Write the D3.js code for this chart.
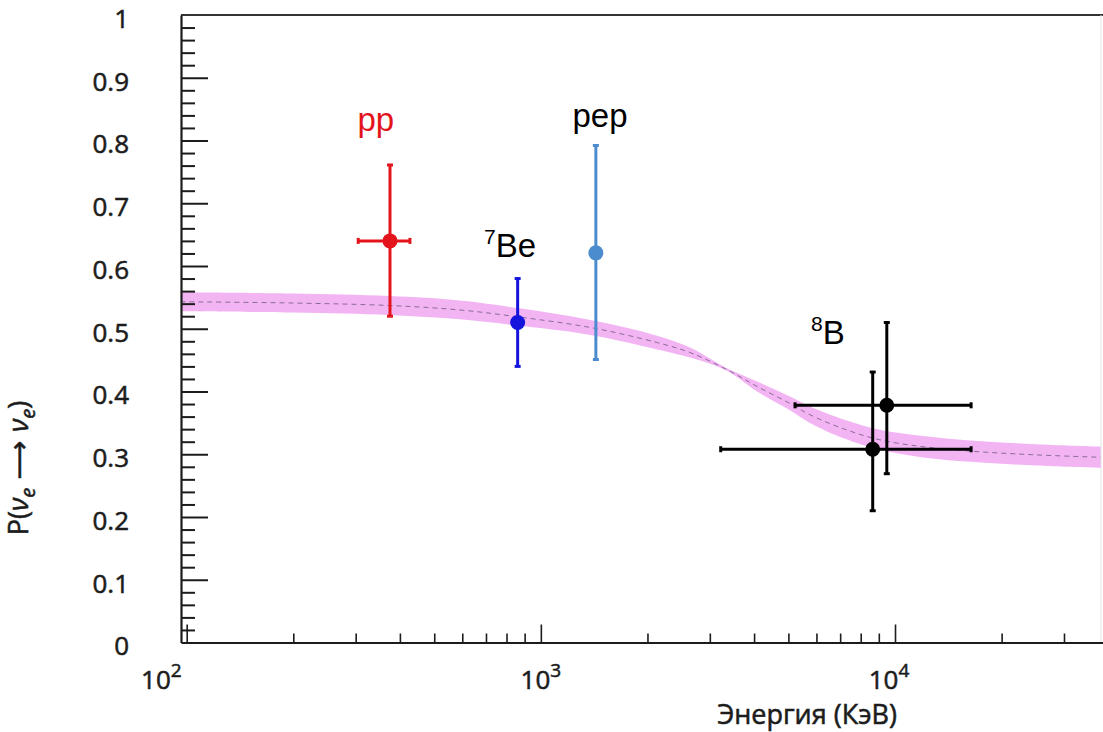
<!DOCTYPE html>
<html><head><meta charset="utf-8">
<script src="https://cdn.jsdelivr.net/npm/d3@7"></script>
<style>body{margin:0;background:#fff}</style>
</head><body><svg id="c" width="1103" height="732"></svg>
<script>
// ---------- data ----------
const yTickValues = [0, 0.1, 0.2, 0.3, 0.4, 0.5, 0.6, 0.7, 0.8, 0.9, 1];
const yTickLabels = ["0", "0.1", "0.2", "0.3", "0.4", "0.5", "0.6", "0.7", "0.8", "0.9", "1"];
const xDecades = [100, 1000, 10000];
const xTickBase = ["10", "10", "10"];
const xTickExp = ["2", "3", "4"];

// MSW-LMA band (energy keV, centre, half-width)
const bandEnergy = [96, 200, 375, 590, 860, 1380, 2130, 2640, 3350, 4080, 5050, 5750, 7200, 9060, 12000, 16300, 25000, 39000];
const bandMid    = [0.543, 0.541, 0.537, 0.530, 0.519, 0.502, 0.478, 0.462, 0.435, 0.408, 0.381, 0.363, 0.340, 0.323, 0.312, 0.305, 0.299, 0.295];
const bandHalf   = [0.015, 0.015, 0.015, 0.015, 0.014, 0.012, 0.011, 0.008, 0.002, 0.008, 0.011, 0.013, 0.015, 0.016, 0.017, 0.017, 0.017, 0.017];

// measurements
const sourceNames = ["pp", "7Be", "pep", "8B", "8B"];
const energy   = [375, 860, 1430, 8650, 9480];
const prob     = [0.640, 0.510, 0.621, 0.308, 0.378];
const probLo   = [0.520, 0.440, 0.451, 0.210, 0.269];
const probHi   = [0.761, 0.580, 0.792, 0.431, 0.510];
const energyLo = [305, null, null, 3220, 5220];
const energyHi = [427, null, null, 16400, 16400];
const pointColors = ["#e4141c", "#1414dc", "#4a8cce", "#000000", "#000000"];

// labels (in data coordinates)
const labelMain = ["pp", "Be", "pep", "B"];
const labelSup  = ["", "7", "", "8"];
const labelE    = [342, 819, 1469, 6460];
const labelP    = [0.815, 0.614, 0.821, 0.475];
const labelColors = ["#e4141c", "#000000", "#000000", "#000000"];

// ---------- chart ----------
const svg = d3.select("#c");
const mLeft = 181, mRight = 1103, mTop = 15, mBottom = 642.5;
const x = d3.scaleLog().domain([96.37, 38660]).range([mLeft, mRight]);
const y = d3.scaleLinear().domain([0, 1]).range([mBottom, mTop]);
const FONT = "'Open Sans', 'Noto Sans', sans-serif";
const ink = "#1c1c1c";

svg.append("defs").append("clipPath").attr("id", "plot")
  .append("rect").attr("x", mLeft).attr("y", mTop).attr("width", mRight - 2 - mLeft).attr("height", mBottom - mTop);

// band
const bandData = bandEnergy.map((e, i) => ({e, m: bandMid[i], h: bandHalf[i]}));
const curve = d3.curveCatmullRom.alpha(0.5);
svg.append("path").datum(bandData)
  .attr("clip-path", "url(#plot)")
  .attr("fill", "#f3b4f3")
  .attr("d", d3.area().curve(curve)
    .x(d => x(d.e)).y0(d => y(d.m - d.h)).y1(d => y(d.m + d.h)));
svg.append("path").datum(bandData)
  .attr("clip-path", "url(#plot)")
  .attr("fill", "none").attr("stroke", "#8a6c98").attr("stroke-width", 1)
  .attr("stroke-dasharray", "5,4")
  .attr("d", d3.line().curve(curve).x(d => x(d.e)).y(d => y(d.m)));

// frame
svg.append("line").attr("x1", mLeft).attr("x2", mRight).attr("y1", mTop).attr("y2", mTop)
  .attr("stroke", "#333").attr("stroke-width", 2.2);
svg.append("line").attr("x1", mRight - 2).attr("x2", mRight - 2).attr("y1", mTop).attr("y2", mBottom)
  .attr("stroke", "#e4e4e4").attr("stroke-width", 1);

const bolden = sel => sel.attr("stroke", ink).attr("stroke-width", 0.55);

// y axis: minor ticks
const yMinor = d3.range(0, 1.0001, 0.02).filter(v => Math.abs(v * 10 - Math.round(v * 10)) > 1e-6);
svg.append("g").attr("transform", `translate(${mLeft},0)`)
  .call(d3.axisLeft(y).tickValues(yMinor).tickSizeInner(-14).tickSizeOuter(0).tickFormat(""))
  .call(g => g.select(".domain").remove())
  .call(g => g.selectAll("line").attr("stroke", ink).attr("stroke-width", 2));
// y axis: major ticks + labels
svg.append("g").attr("transform", `translate(${mLeft},0)`)
  .call(d3.axisLeft(y).tickValues(yTickValues).tickSizeInner(-27).tickSizeOuter(0).tickPadding(52)
    .tickFormat((d, i) => yTickLabels[i]))
  .call(g => g.select(".domain").attr("stroke", ink).attr("stroke-width", 2.2))
  .call(g => g.selectAll("line").attr("stroke", ink).attr("stroke-width", 2)
    .filter(d => d === 1 || d === 0).remove())
  .call(g => g.selectAll("text").attr("font-family", FONT).attr("font-size", 26)
    .attr("fill", ink).attr("dy", "0.48em").call(bolden));

// x axis: minor ticks
const xMinor = [];
[100, 1000, 10000].forEach(d => { for (let k = 2; k <= 9; k++) if (d * k < 38660) xMinor.push(d * k); });
svg.append("g").attr("transform", `translate(0,${mBottom})`)
  .call(d3.axisBottom(x).tickValues(xMinor).tickSizeInner(-9).tickSizeOuter(0).tickFormat(""))
  .call(g => g.select(".domain").remove())
  .call(g => g.selectAll("line").attr("stroke", ink).attr("stroke-width", 1.6));
svg.append("g").attr("transform", `translate(0,${mBottom})`)
  .call(d3.axisBottom(x).tickValues(xDecades).tickSizeInner(-18).tickSizeOuter(0).tickFormat(""))
  .call(g => g.select(".domain").attr("stroke", ink).attr("stroke-width", 2.2))
  .call(g => g.selectAll("line").attr("stroke", ink).attr("stroke-width", 1.6));

// x tick labels with superscripts
xDecades.forEach((d, i) => {
  const t = svg.append("text")
    .attr("x", i === 0 ? x(d) - 5 : x(d) - (i === 2 ? 6 : 0))
    .attr("y", mBottom + 46)
    .attr("text-anchor", i === 0 ? "end" : "middle")
    .attr("font-family", FONT).attr("font-size", 26).attr("fill", ink).call(bolden);
  t.append("tspan").text(xTickBase[i]);
  t.append("tspan").attr("font-size", 19).attr("dy", -12).text(xTickExp[i]);
});

// axis titles
svg.append("text").attr("x", 807).attr("y", 724).attr("text-anchor", "middle")
  .attr("font-family", FONT).attr("font-size", 27).attr("fill", ink).call(bolden)
  .text("Энергия (КэВ)");
const yt = svg.append("text")
  .attr("transform", "translate(28,468) rotate(-90)")
  .attr("text-anchor", "middle")
  .attr("font-family", FONT).attr("font-size", 27).attr("fill", ink).call(bolden);
yt.append("tspan").text("P(");
yt.append("tspan").attr("font-style", "italic").text("ν");
yt.append("tspan").attr("font-style", "italic").attr("font-size", 20).attr("dy", 7).text("e");
yt.append("tspan").attr("dy", -7).attr("font-family", "'DejaVu Sans', sans-serif").text(" ⟶ ");
yt.append("tspan").attr("font-style", "italic").text("ν");
yt.append("tspan").attr("font-style", "italic").attr("font-size", 20).attr("dy", 7).text("e");
yt.append("tspan").attr("dy", -7).text(")");

// error bars and points
const pts = energy.map((e, i) => ({e, p: prob[i], lo: probLo[i], hi: probHi[i],
  elo: energyLo[i], ehi: energyHi[i], c: pointColors[i]}));
const gp = svg.append("g");
pts.forEach(d => {
  const cx = x(d.e), cy = y(d.p);
  gp.append("line").attr("x1", cx).attr("x2", cx).attr("y1", y(d.lo)).attr("y2", y(d.hi))
    .attr("stroke", d.c).attr("stroke-width", 3);
  [d.lo, d.hi].forEach(v => gp.append("line")
    .attr("x1", cx - 3).attr("x2", cx + 3).attr("y1", y(v)).attr("y2", y(v))
    .attr("stroke", d.c).attr("stroke-width", 3));
  if (d.elo != null) {
    gp.append("line").attr("x1", x(d.elo)).attr("x2", x(d.ehi)).attr("y1", cy).attr("y2", cy)
      .attr("stroke", d.c).attr("stroke-width", 3);
    [d.elo, d.ehi].forEach(v => gp.append("line")
      .attr("x1", x(v)).attr("x2", x(v)).attr("y1", cy - 3).attr("y2", cy + 3)
      .attr("stroke", d.c).attr("stroke-width", 3));
  }
});
pts.forEach(d => gp.append("circle").attr("cx", x(d.e)).attr("cy", y(d.p)).attr("r", 7.5).attr("fill", d.c));

// source labels
labelMain.forEach((m, i) => {
  const t = svg.append("text").attr("x", x(labelE[i])).attr("y", y(labelP[i]))
    .attr("text-anchor", "middle").attr("font-family", "'Liberation Sans', Arial, sans-serif")
    .attr("font-size", 33).attr("fill", labelColors[i]);
  if (labelSup[i]) {
    t.append("tspan").attr("font-size", 21).attr("dy", -13).text(labelSup[i]);
    t.append("tspan").attr("dy", 13).text(m);
  } else t.text(m);
});
</script></body></html>
